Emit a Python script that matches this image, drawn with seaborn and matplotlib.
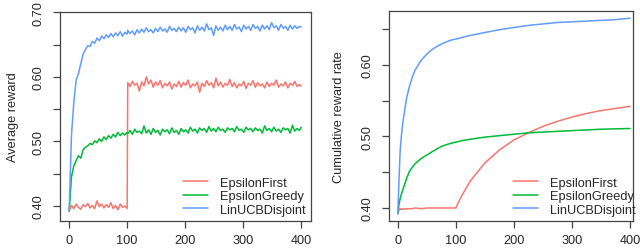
import numpy as np
import pandas as pd
import matplotlib
matplotlib.use("Agg")
import matplotlib.pyplot as plt
import seaborn as sns

# per-step average reward (left panel)
steps = list(range(0, 101, 4)) + list(range(101, 400, 4)) + [400]

eps_first = [0.392, 0.401, 0.396, 0.403, 0.398, 0.395, 0.402, 0.399, 0.404, 0.397,
             0.401, 0.396, 0.408, 0.399, 0.403, 0.397, 0.402, 0.398, 0.405, 0.396,
             0.401, 0.394, 0.403, 0.398, 0.400, 0.396,
             0.591, 0.585, 0.593, 0.587, 0.590, 0.578, 0.592, 0.586, 0.600, 0.589,
             0.595, 0.584, 0.592, 0.587, 0.594, 0.583, 0.590, 0.586, 0.592, 0.581,
             0.589, 0.585, 0.593, 0.584, 0.591, 0.587, 0.595, 0.583, 0.589, 0.586,
             0.592, 0.576, 0.590, 0.585, 0.594, 0.587, 0.591, 0.583, 0.598, 0.586,
             0.592, 0.584, 0.590, 0.587, 0.596, 0.585, 0.591, 0.583, 0.589, 0.586,
             0.593, 0.582, 0.590, 0.587, 0.594, 0.584, 0.591, 0.586, 0.589, 0.583,
             0.592, 0.585, 0.590, 0.587, 0.595, 0.584, 0.589, 0.586, 0.592, 0.583,
             0.590, 0.587, 0.593, 0.585, 0.588, 0.586]

eps_greedy = [0.392, 0.445, 0.462, 0.470, 0.478, 0.474, 0.487, 0.491, 0.493, 0.497,
              0.495, 0.501, 0.498, 0.504, 0.500, 0.507, 0.503, 0.509, 0.505, 0.511,
              0.507, 0.514, 0.509, 0.513, 0.510, 0.514,
              0.512, 0.517, 0.511, 0.519, 0.514, 0.516, 0.512, 0.524, 0.513, 0.518,
              0.511, 0.520, 0.514, 0.517, 0.510, 0.519, 0.515, 0.518, 0.512, 0.521,
              0.514, 0.517, 0.511, 0.520, 0.515, 0.518, 0.513, 0.522, 0.516, 0.519,
              0.513, 0.521, 0.517, 0.520, 0.514, 0.523, 0.516, 0.520, 0.515, 0.522,
              0.517, 0.519, 0.514, 0.521, 0.518, 0.520, 0.515, 0.523, 0.517, 0.519,
              0.514, 0.522, 0.518, 0.520, 0.515, 0.521, 0.517, 0.519, 0.513, 0.524,
              0.517, 0.520, 0.515, 0.522, 0.516, 0.519, 0.514, 0.521, 0.518, 0.520,
              0.513, 0.525, 0.516, 0.520, 0.517, 0.522]

linucb = [0.392, 0.510, 0.560, 0.595, 0.605, 0.620, 0.635, 0.642, 0.648, 0.647,
          0.655, 0.652, 0.660, 0.656, 0.663, 0.659, 0.665, 0.661, 0.667, 0.662,
          0.668, 0.664, 0.670, 0.663, 0.669, 0.666,
          0.672, 0.667, 0.671, 0.665, 0.673, 0.668, 0.674, 0.669, 0.676, 0.670,
          0.673, 0.668, 0.675, 0.670, 0.677, 0.671, 0.674, 0.669, 0.678, 0.672,
          0.675, 0.670, 0.677, 0.671, 0.676, 0.669, 0.678, 0.673, 0.676, 0.668,
          0.679, 0.672, 0.677, 0.671, 0.682, 0.673, 0.676, 0.664, 0.679, 0.672,
          0.677, 0.671, 0.680, 0.673, 0.678, 0.672, 0.681, 0.674, 0.677, 0.670,
          0.680, 0.674, 0.678, 0.672, 0.681, 0.675, 0.678, 0.671, 0.680, 0.674,
          0.679, 0.673, 0.684, 0.676, 0.679, 0.672, 0.681, 0.675, 0.678, 0.672,
          0.680, 0.674, 0.679, 0.675, 0.678, 0.677]

# cumulative reward rate (right panel)
cum_steps = [0, 2, 4, 6, 8, 10, 15, 20, 25, 30, 40, 50, 60, 75, 90, 100, 101, 110,
             125, 150, 175, 200, 225, 250, 275, 300, 325, 350, 375, 400]
cum_first = [0.392, 0.397, 0.399, 0.398, 0.399, 0.398, 0.399, 0.399, 0.399, 0.400,
             0.399, 0.400, 0.400, 0.400, 0.400, 0.400, 0.402, 0.417, 0.438, 0.463,
             0.481, 0.495, 0.505, 0.514, 0.521, 0.527, 0.532, 0.536, 0.539, 0.542]
cum_greedy = [0.392, 0.405, 0.413, 0.419, 0.424, 0.429, 0.441, 0.451, 0.457, 0.462,
              0.469, 0.474, 0.479, 0.486, 0.490, 0.492, 0.492, 0.494, 0.496, 0.499,
              0.501, 0.503, 0.505, 0.506, 0.507, 0.508, 0.509, 0.510, 0.5105, 0.511]
cum_linucb = [0.392, 0.440, 0.480, 0.500, 0.515, 0.527, 0.553, 0.570, 0.583, 0.593,
              0.606, 0.615, 0.622, 0.629, 0.634, 0.636, 0.636, 0.638, 0.641, 0.645,
              0.649, 0.652, 0.655, 0.657, 0.659, 0.660, 0.661, 0.662, 0.663, 0.665]

names = ["EpsilonFirst", "EpsilonGreedy", "LinUCBDisjoint"]
colors = ["#F8766D", "#00BA38", "#619CFF"]

avg = pd.concat([pd.DataFrame({"step": steps, "value": v, "policy": n})
                 for n, v in zip(names, [eps_first, eps_greedy, linucb])])
cum = pd.concat([pd.DataFrame({"step": cum_steps, "value": v, "policy": n})
                 for n, v in zip(names, [cum_first, cum_greedy, cum_linucb])])

sns.set_style("white")
plt.rcParams["font.family"] = ["Liberation Sans", "DejaVu Sans"]
fs = 9.2
plt.rcParams["font.size"] = fs

fig = plt.figure(figsize=(6.4, 2.51), dpi=100)
ax1 = fig.add_axes([0.094, 0.116, 0.392, 0.832])
ax2 = fig.add_axes([0.608, 0.116, 0.381, 0.836])

panels = [
    (ax1, avg, "Average reward", (0.377, 0.7003),
     [0.40, 0.45, 0.50, 0.55, 0.60, 0.65, 0.70], (-15.5, 417), 10, 1.0),
    (ax2, cum, "Cumulative reward rate", (0.382, 0.675),
     [0.40, 0.45, 0.50, 0.55, 0.60, 0.65], (-15, 405), 12, 1.03),
]

for ax, df, ylab, ylim, yt, xlim, lpad, lx in panels:
    sns.lineplot(data=df, x="step", y="value", hue="policy", hue_order=names,
                 palette=colors, linewidth=1.1, ax=ax, estimator=None, sort=False)
    ax.set_xlim(*xlim)
    ax.set_ylim(*ylim)
    ax.set_xticks([0, 100, 200, 300, 400])
    ax.set_yticks(yt)
    ax.set_yticklabels([f"{t:.2f}" if round(t * 100) % 10 == 0 else "" for t in yt],
                       rotation=90, va="center")
    ax.tick_params(direction="out", length=5, width=0.9, color="#444444",
                   labelsize=fs, left=True, bottom=True)
    ax.tick_params(axis="y", pad=6)
    ax.tick_params(axis="x", pad=4.5)
    ax.set_xlabel("")
    ax.set_ylabel(ylab, fontsize=fs, labelpad=lpad)
    for s in ax.spines.values():
        s.set_color("#444444")
        s.set_linewidth(0.9)
    ax.legend(loc="lower right", bbox_to_anchor=(lx, 0.0), frameon=False,
              fontsize=fs, handlelength=1.95, handletextpad=0.94,
              labelspacing=0.12, borderaxespad=0.0)

fig.savefig("out.png", dpi=100)
